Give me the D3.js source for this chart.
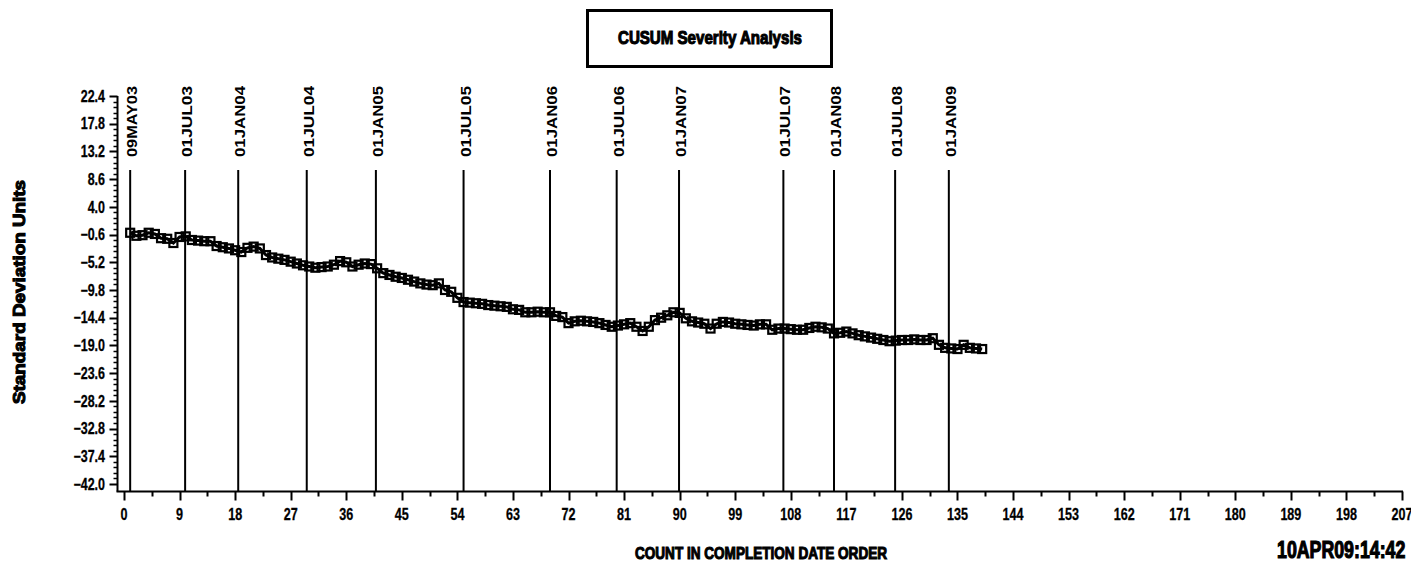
<!DOCTYPE html>
<html>
<head>
<meta charset="utf-8">
<script src="https://cdn.jsdelivr.net/npm/d3@7"></script>
<style>
  html, body { margin: 0; padding: 0; background: #fff; }
  svg { display: block; }
</style>
</head>
<body>
<svg id="chart" width="1411" height="562"></svg>
<script>
// ---------- DATA ----------
const cusumValues = [
  -0.3, -0.8, -0.7, -0.3, -0.5, -1.2, -1.3, -2.0, -1.0, -0.9,
  -1.5, -1.6, -1.7, -1.7, -2.5, -2.7, -2.9, -3.2, -3.5, -2.8,
  -2.6, -2.9, -4.0, -4.4, -4.6, -4.8, -5.1, -5.4, -5.7, -5.9,
  -6.1, -6.0, -5.9, -5.6, -5.0, -5.2, -5.9, -5.6, -5.4, -5.5,
  -6.2, -7.0, -7.3, -7.6, -7.8, -8.1, -8.4, -8.7, -8.9, -9.0,
  -8.7, -9.8, -10.1, -11.1, -11.8, -11.9, -12.0, -12.1, -12.3, -12.4,
  -12.5, -12.6, -13.0, -13.1, -13.5, -13.5, -13.4, -13.5, -13.5, -14.1,
  -14.3, -15.3, -15.0, -14.9, -15.0, -15.1, -15.3, -15.6, -15.9, -15.7,
  -15.5, -15.3, -15.9, -16.6, -15.9, -14.8, -14.4, -14.0, -13.5, -13.6,
  -14.5, -15.0, -15.2, -15.4, -16.2, -15.4, -15.1, -15.2, -15.4, -15.5,
  -15.6, -15.7, -15.5, -15.5, -16.4, -16.2, -16.2, -16.3, -16.4, -16.4,
  -16.1, -15.9, -16.0, -16.2, -17.0, -16.9, -16.7, -17.0, -17.3, -17.5,
  -17.7, -17.9, -18.1, -18.3, -18.2, -18.1, -18.1, -18.0, -18.1, -18.1,
  -17.8, -18.9, -19.4, -19.5, -19.6, -18.9, -19.4, -19.5, -19.6
];
const cusumCounts = cusumValues.map((v, i) => i + 1);

const refLabels = ["09MAY03", "01JUL03", "01JAN04", "01JUL04", "01JAN05", "01JUL05",
                   "01JAN06", "01JUL06", "01JAN07", "01JUL07", "01JAN08", "01JUL08", "01JAN09"];
const refCounts = [1, 9.9, 18.5, 29.6, 40.8, 55, 69, 79.8, 89.9, 106.8, 115, 124.9, 133.6];

const yTickValues = [22.4, 17.8, 13.2, 8.6, 4.0, -0.6, -5.2, -9.8, -14.4, -19.0,
                     -23.6, -28.2, -32.8, -37.4, -42.0];
const xTickValues = [0, 9, 18, 27, 36, 45, 54, 63, 72, 81, 90, 99, 108, 117, 126,
                     135, 144, 153, 162, 171, 180, 189, 198, 207];

const titleText = "CUSUM Severity Analysis";
const yTitle = "Standard Deviation Units";
const xTitle = "COUNT IN COMPLETION DATE ORDER";
const stampText = "10APR09:14:42";

// ---------- LAYOUT ----------
const svg = d3.select("#chart");
const x = d3.scaleLinear().domain([0, 207]).range([124, 1402]);
const y = d3.scaleLinear().domain([-42.0, 22.4]).range([484, 96]);
const axisX = 117.5, axisY = 491.5;
const sans = "'Liberation Sans', Arial, sans-serif";

// Title box
svg.append("rect").attr("x", 587.5).attr("y", 10.5).attr("width", 244).attr("height", 56)
  .attr("fill", "none").attr("stroke", "#000").attr("stroke-width", 3);
svg.append("text").attr("x", 710).attr("y", 44).attr("text-anchor", "middle")
  .attr("font-family", sans).attr("font-weight", "bold").attr("font-size", 18)
  .attr("stroke", "#000").attr("stroke-width", 1.1)
  .attr("textLength", 184).attr("lengthAdjust", "spacingAndGlyphs")
  .text(titleText);

// Y axis line + ticks
svg.append("line").attr("x1", axisX).attr("x2", axisX).attr("y1", y(22.4)).attr("y2", axisY)
  .attr("stroke", "#000").attr("stroke-width", 2);
const minorY = [];
for (let i = 0; i < yTickValues.length - 1; i++) {
  for (let k = 1; k <= 4; k++) minorY.push(yTickValues[i] - k * 4.6 / 5);
}
svg.append("g").selectAll("line").data(minorY).join("line")
  .attr("x1", axisX - 4).attr("x2", axisX).attr("y1", d => Math.round(y(d)) + 0.5).attr("y2", d => Math.round(y(d)) + 0.5)
  .attr("stroke", "#000").attr("stroke-width", 1.5);
svg.append("g").selectAll("line").data(yTickValues).join("line")
  .attr("x1", axisX - 8).attr("x2", axisX).attr("y1", d => Math.round(y(d)) + 0.5).attr("y2", d => Math.round(y(d)) + 0.5)
  .attr("stroke", "#000").attr("stroke-width", 2);
svg.append("g").selectAll("text").data(yTickValues).join("text")
  .attr("transform", d => `translate(105,${y(d)}) scale(0.78,1)`)
  .attr("dy", "0.36em").attr("text-anchor", "end")
  .attr("font-family", sans).attr("font-weight", "bold").attr("font-size", 16)
  .attr("stroke", "#000").attr("stroke-width", 0.3)
  .text(d => d.toFixed(1).replace("-", "\u2212"));

// X axis line + ticks
svg.append("line").attr("x1", axisX - 1).attr("x2", x(207) + 1).attr("y1", axisY).attr("y2", axisY)
  .attr("stroke", "#000").attr("stroke-width", 2);
const minorX = xTickValues.slice(0, -1).map(d => d + 4.5);
svg.append("g").selectAll("line").data(minorX).join("line")
  .attr("x1", d => Math.round(x(d)) + 0.5).attr("x2", d => Math.round(x(d)) + 0.5)
  .attr("y1", axisY).attr("y2", axisY + 5)
  .attr("stroke", "#000").attr("stroke-width", 2);
svg.append("g").selectAll("line").data(xTickValues).join("line")
  .attr("x1", d => Math.round(x(d)) + 0.5).attr("x2", d => Math.round(x(d)) + 0.5)
  .attr("y1", axisY).attr("y2", axisY + 9)
  .attr("stroke", "#000").attr("stroke-width", 2);
svg.append("g").selectAll("text").data(xTickValues).join("text")
  .attr("transform", d => `translate(${x(d)},520) scale(0.74,1)`)
  .attr("text-anchor", "middle")
  .attr("font-family", sans).attr("font-weight", "bold").attr("font-size", 17)
  .attr("stroke", "#000").attr("stroke-width", 0.3)
  .text(d => d);

// Reference lines + labels
svg.append("g").selectAll("line").data(refCounts).join("line")
  .attr("x1", d => x(d)).attr("x2", d => x(d)).attr("y1", 170).attr("y2", axisY)
  .attr("stroke", "#000").attr("stroke-width", 2);
svg.append("g").selectAll("text").data(refLabels).join("text")
  .attr("transform", (d, i) => `translate(${x(refCounts[i]) + 2},157) rotate(-90)`)
  .attr("dy", "0.36em").attr("text-anchor", "start")
  .attr("font-family", sans).attr("font-weight", "bold").attr("font-size", 14)
  .attr("textLength", 71).attr("lengthAdjust", "spacingAndGlyphs")
  .text(d => d);

// Data line
const pts = cusumValues.map((v, i) => [cusumCounts[i], v]);
svg.append("path").datum(pts)
  .attr("fill", "none").attr("stroke", "#000").attr("stroke-width", 3)
  .attr("d", d3.line().x(d => x(d[0])).y(d => y(d[1])));
svg.append("g").selectAll("rect").data(pts).join("rect")
  .attr("x", d => x(d[0]) - 4).attr("y", d => y(d[1]) - 4)
  .attr("width", 8).attr("height", 8)
  .attr("fill", "none").attr("stroke", "#000").attr("stroke-width", 2.2);

// Axis titles
svg.append("text").attr("transform", "translate(25,292) rotate(-90)")
  .attr("text-anchor", "middle")
  .attr("font-family", sans).attr("font-weight", "bold").attr("font-size", 17)
  .attr("stroke", "#000").attr("stroke-width", 1.1)
  .attr("textLength", 224).attr("lengthAdjust", "spacingAndGlyphs")
  .text(yTitle);
svg.append("text").attr("x", 761).attr("y", 559).attr("text-anchor", "middle")
  .attr("font-family", sans).attr("font-weight", "bold").attr("font-size", 17)
  .attr("stroke", "#000").attr("stroke-width", 1.1)
  .attr("textLength", 252).attr("lengthAdjust", "spacingAndGlyphs")
  .text(xTitle);

// Timestamp (condensed to fit inside the right edge)
svg.append("text").attr("transform", "translate(1277,558) scale(0.74,1)")
  .attr("text-anchor", "start")
  .attr("font-family", sans).attr("font-weight", "bold").attr("font-size", 24)
  .attr("stroke", "#000").attr("stroke-width", 1.2)
  .text(stampText);
</script>
</body>
</html>
